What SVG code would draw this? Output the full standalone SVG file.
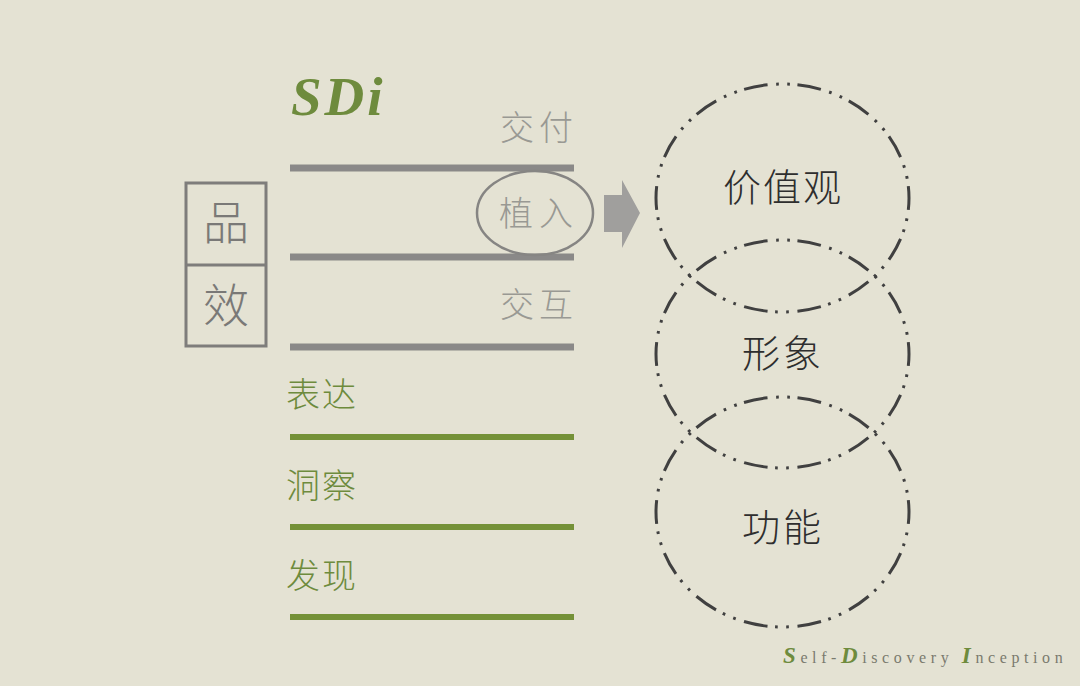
<svg xmlns="http://www.w3.org/2000/svg" width="1080" height="686" viewBox="0 0 1080 686">
<style>
.cjk{font-family:"Noto Sans CJK SC","Noto Sans",sans-serif}
.g{fill:#999993;font-size:34px;font-weight:300}
.gr{fill:#6E8B3D;font-size:34px;font-weight:300}
.dk{fill:#2E2E2E;font-size:38px;font-weight:300}
.bar{stroke:#8A8988;stroke-width:7}
.gbar{stroke:#749137;stroke-width:6}
.ring{fill:none;stroke:#404040;stroke-width:3;stroke-dasharray:44 16 5 16 5 14;stroke-dashoffset:22}
.cap{font-size:23px;font-style:italic;font-weight:bold;fill:#6E8B3D}
</style>
<rect width="1080" height="686" fill="#E4E2D3"/>
<g id="title"><text x="291" y="115" font-family="Liberation Serif,serif" font-style="italic" font-weight="bold" font-size="55" fill="#6E8B3D" letter-spacing="3">SDi</text></g>
<g id="pinxiao">
<rect x="186" y="183" width="80" height="163" fill="none" stroke="#7E7D7B" stroke-width="3"/>
<line x1="186" y1="265" x2="266" y2="265" stroke="#7E7D7B" stroke-width="3"/>
<text class="cjk" x="226" y="239" text-anchor="middle" font-size="46" fill="#7A7977" font-weight="300">品</text>
<text class="cjk" x="226" y="322" text-anchor="middle" font-size="46" fill="#7A7977" font-weight="300">效</text>
</g>
<g id="bars">
<line class="bar" x1="290" y1="168" x2="574" y2="168"/>
<line class="bar" x1="290" y1="257" x2="574" y2="257"/>
<line class="bar" x1="290" y1="347" x2="574" y2="347"/>
<line class="gbar" x1="290" y1="437" x2="574" y2="437"/>
<line class="gbar" x1="290" y1="527" x2="574" y2="527"/>
<line class="gbar" x1="290" y1="617" x2="574" y2="617"/>
</g>
<g id="labels">
<text class="cjk g" x="578" y="140" text-anchor="end" letter-spacing="5">交付</text>
<text class="cjk g" x="578" y="317" text-anchor="end" letter-spacing="5">交互</text>
<text class="cjk gr" x="286" y="407" letter-spacing="2">表达</text>
<text class="cjk gr" x="286" y="498" letter-spacing="2">洞察</text>
<text class="cjk gr" x="286" y="588" letter-spacing="2">发现</text>
</g>
<g id="zhiru">
<ellipse cx="535" cy="213" rx="58" ry="42" fill="none" stroke="#868583" stroke-width="2.5"/>
<text class="cjk g" x="539" y="226" text-anchor="middle" letter-spacing="6">植入</text>
</g>
<g id="connectors">
<polygon points="604,195 622,195 622,180 640,213 622,248 622,232 604,232" fill="#A09F9D"/>
</g>
<g id="circles">
<ellipse class="ring" cx="782.5" cy="198" rx="126.5" ry="114" pathLength="1400"/>
<ellipse class="ring" cx="782.5" cy="354" rx="126.5" ry="114" pathLength="1400"/>
<ellipse class="ring" cx="782.5" cy="512" rx="126.5" ry="115" pathLength="1400"/>
<text class="cjk dk" x="783" y="201" text-anchor="middle" letter-spacing="2">价值观</text>
<text class="cjk dk" x="783" y="367" text-anchor="middle" letter-spacing="3">形象</text>
<text class="cjk dk" x="783" y="541" text-anchor="middle" letter-spacing="3">功能</text>
</g>
<g id="footer">
<text x="783" y="663" font-family="Liberation Serif,serif" font-size="16" fill="#7A7A6E" letter-spacing="4.6"><tspan class="cap">S</tspan>elf-<tspan class="cap">D</tspan>iscovery <tspan class="cap">I</tspan>nception</text>
</g>
</svg>
